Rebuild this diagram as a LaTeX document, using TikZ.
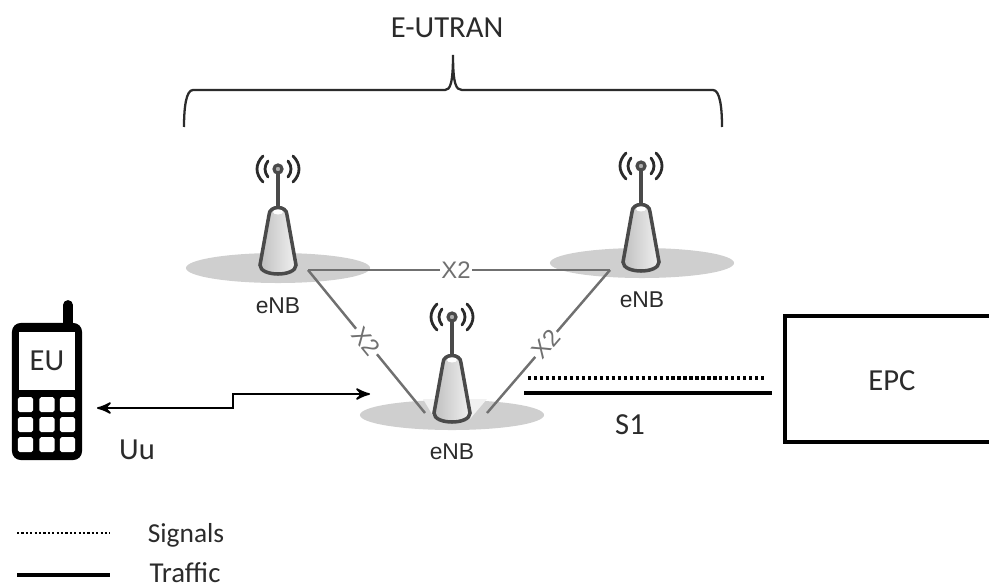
\documentclass[tikz,border=0pt]{standalone}
\usepackage{fontspec}
\setmainfont{Carlito}
\newfontfamily\arialfont{Liberation Sans}
\usetikzlibrary{arrows,positioning,shapes.geometric}

\definecolor{cellgray}{HTML}{CFCFCF}
\definecolor{towergray}{HTML}{4A4A4A}
\definecolor{linkgray}{HTML}{707070}
\definecolor{inkgray}{HTML}{2B2B2B}

\tikzset{
  pics/enbtower/.style={code={
    \draw[towergray,line width=1pt,left color=towergray!35,right color=towergray!8]
      (-18,-10) .. controls (-18,2) and (18,2) .. (18,-10) -- (9,-60)
      .. controls (9,-70) and (-9,-70) .. (-9,-60) -- cycle;
    \fill[white] (0,-63) ellipse (5 and 2.5);
    \draw[towergray,line width=.9pt] (0,-66) -- (0,-102);
    \draw[towergray,line width=.9pt,fill=towergray!45] (0,-106) circle (4);
    \draw[inkgray,line width=.8pt,line cap=round]
      (-10,-114) .. controls (-14,-109) and (-14,-103) .. (-10,-98)
      (10,-114) .. controls (14,-109) and (14,-103) .. (10,-98)
      (-15,-119) .. controls (-23,-111) and (-23,-101) .. (-15,-93)
      (15,-119) .. controls (23,-111) and (23,-101) .. (15,-93);
  }}
}

\begin{document}
\begin{tikzpicture}[x=0.01cm,y=-0.01cm,>=stealth',font=\fontsize{8.7pt}{10pt}\selectfont,text=inkgray]
    \tikzstyle{cell}=[ellipse,fill=cellgray,draw=none,minimum width=1.84cm,minimum height=.3cm,inner sep=0pt]
    \tikzstyle{enblabel}=[font=\arialfont\fontsize{6.5pt}{8pt}\selectfont,inner sep=0pt]
    \tikzstyle{xlink}=[draw=linkgray,line width=.7pt]
    \tikzstyle{xlabel}=[font=\arialfont\fontsize{6.8pt}{8pt}\selectfont,text=linkgray,fill=white,inner sep=.5pt]
    \tikzstyle{signal}=[black,line width=.9pt,dash pattern=on .9pt off .8pt]
    \tikzstyle{legendsignal}=[black,line width=.75pt,dash pattern=on .65pt off .6pt]
    \tikzstyle{traffic}=[black,line width=1pt]
    \tikzstyle{phonekey}=[fill=white,rounded corners=.5pt]

    \useasboundingbox (0,0) rectangle (989,585);

    \node[cell] (cellA) at (278,268) {};
    \node[cell] (cellB) at (642,263) {};
    \node[cell] (cellC) at (452,415) {};
    \fill[cellgray!30] (423,399) -- (487,399) -- (470,419) -- (435,419) -- cycle;

    \coordinate (xa) at (308,270);
    \coordinate (xb) at (610,270);
    \coordinate (xc) at (425,413);
    \coordinate (xd) at (487,413);
    \path[xlink] (xa) edge node[xlabel,pos=.49] {X2} (xb)
    (xa) edge node[xlabel,sloped,pos=.5] {X2} (xc)
    (xb) edge node[xlabel,sloped,pos=.52] {X2} (xd);

    \pic at (278,275) {enbtower};
    \pic at (641,272) {enbtower};
    \pic at (452,423) {enbtower};

    \node[enblabel,below=.13cm of cellA] (labelA) {eNB};
    \node[enblabel,below=.12cm of cellB] (labelB) {eNB};
    \node[enblabel,below=.12cm of cellC] (labelC) {eNB};

    \node (eutran) at (447,28) {E-UTRAN};
    \coordinate (braceL) at (184,127);
    \coordinate (braceM) at (453,55);
    \coordinate (braceR) at (722,127);
    \draw[inkgray,line width=.65pt] (braceL) .. controls (184,108) and (186,90) .. (193,90)
      -- (445,90) .. controls (450,90) and (453,84) .. (braceM)
      .. controls (453,84) and (456,90) .. (462,90) -- (713,90)
      .. controls (720,90) and (722,108) .. (braceR);

    % phone
    \draw[black,line width=2.8pt,line cap=round] (68,305) -- (68,325);
    \node[fill=black,rounded corners=2.5pt,minimum width=.7cm,minimum height=1.37cm,inner sep=0pt] (phone) at (47,391.5) {};
    \node[fill=white,minimum width=.56cm,minimum height=.58cm,inner sep=0pt] (screen) at (47,361) {EU};
    \foreach \row/\ky in {0/404.5,1/424.5,2/444.5}
      \foreach \col/\kx in {0/25.5,1/47,2/67.5}
        \node[phonekey,minimum width=.15cm,minimum height=.15cm,inner sep=0pt] (key\row\col) at (\kx,\ky) {};

    \coordinate (uuA) at (97,408);
    \coordinate (stepA) at (233,408);
    \coordinate (stepB) at (233,394);
    \coordinate (uuB) at (370,394);
    \draw[<->,black,line width=.5pt] (uuA) -- (stepA) -- (stepB) -- (uuB);
    \node (uu) at (137,450) {Uu};

    \coordinate (sigA) at (528,378);
    \coordinate (sigB) at (765,378);
    \coordinate (trafA) at (524,393);
    \coordinate (trafB) at (772,393);
    \draw[signal] (sigA) -- (sigB);
    \draw[traffic] (trafA) -- (trafB);
    \node (s1) at (630,425) {S1};

    \coordinate (epcA) at (989,316);
    \coordinate (epcB) at (989,442);
    \draw[black,line width=.9pt] (epcA) -- (785,316) -- (785,442) -- (epcB);
    \node (epc) at (892,381) {EPC};

    \coordinate (legA) at (17,533);
    \coordinate (legB) at (110,533);
    \coordinate (legC) at (17,575);
    \coordinate (legD) at (110,575);
    \draw[legendsignal] (legA) -- (legB);
    \draw[traffic] (legC) -- (legD);
    \node[font=\fontsize{7.8pt}{9pt}\selectfont] (signals) at (186,535) {Signals};
    \node[font=\fontsize{8.2pt}{9pt}\selectfont,inner sep=0pt] (trafficlabel) at (185,573) {Traffic};
\end{tikzpicture}
\end{document}
